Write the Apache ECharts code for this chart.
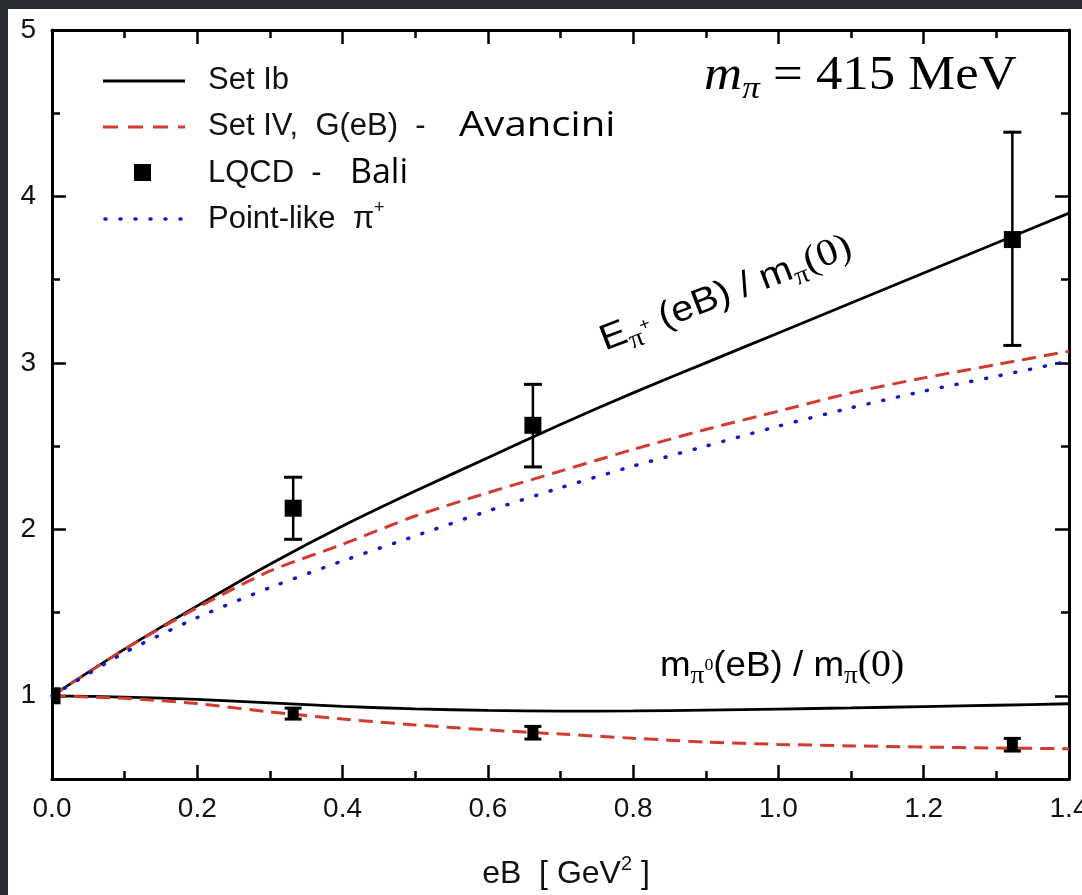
<!DOCTYPE html>
<html>
<head>
<meta charset="utf-8">
<script src="https://cdn.jsdelivr.net/npm/echarts@6/dist/echarts.min.js"></script>
<style>
html,body{margin:0;padding:0;background:#fff;overflow:hidden;}
#chart{width:1082px;height:895px;}
</style>
</head>
<body>
<div id="chart"></div>
<script>
// ---- data ----
const eB = [0, 0.1, 0.2, 0.3, 0.4, 0.5, 0.6, 0.7, 0.8, 0.9, 1.0, 1.1, 1.2, 1.3, 1.4];
const setIbCharged  = [1.00, 1.28, 1.54, 1.79, 2.02, 2.23, 2.43, 2.63, 2.82, 3.00, 3.18, 3.36, 3.54, 3.72, 3.90];
const setIVCharged  = [1.00, 1.28, 1.53, 1.75, 1.91, 2.08, 2.22, 2.35, 2.48, 2.60, 2.71, 2.82, 2.91, 2.99, 3.07];
const pointLike     = [1.00, 1.26, 1.47, 1.65, 1.81, 1.96, 2.11, 2.25, 2.38, 2.50, 2.62, 2.73, 2.83, 2.92, 3.01];
const setIbNeutral  = [1.00, 0.992, 0.978, 0.957, 0.936, 0.921, 0.912, 0.908, 0.909, 0.914, 0.920, 0.927, 0.935, 0.943, 0.952];
const setIVNeutral  = [1.00, 0.985, 0.953, 0.903, 0.860, 0.825, 0.795, 0.770, 0.745, 0.722, 0.708, 0.699, 0.692, 0.686, 0.682];

const lqcdChargedX    = [0, 0.332, 0.662, 1.322];
const lqcdChargedY    = [1.00, 2.127, 2.625, 3.741];
const lqcdChargedLow  = [1.00, 1.940, 2.375, 3.105];
const lqcdChargedHigh = [1.00, 2.313, 2.871, 4.386];

const lqcdNeutralX    = [0.332, 0.662, 1.322];
const lqcdNeutralY    = [0.892, 0.778, 0.706];
const lqcdNeutralLow  = [0.860, 0.740, 0.668];
const lqcdNeutralHigh = [0.926, 0.816, 0.744];

const yMajorTicks = [1, 2, 3, 4, 5];
const yMinorTicks = [1.5, 2.5, 3.5, 4.5];

// ---- build ----
const zip = (xs, ys) => xs.map((x, i) => [x, ys[i]]);
const zip4 = (xs, ys, lo, hi) => xs.map((x, i) => [x, ys[i], lo[i], hi[i]]);

const chart = echarts.init(document.getElementById('chart'), null, {renderer: 'canvas'});

const SANS = '"Liberation Sans", Arial, sans-serif';
const SERIF = '"Liberation Serif", "Times New Roman", serif';
const CAL = '"Open Sans", Lato, sans-serif';
const RED = '#d23a2d';
const BLUE = '#1414c8';

function errRender(capW, sq) {
  return function (params, api) {
    const x = api.value(0), y = api.value(1), lo = api.value(2), hi = api.value(3);
    const c = api.coord([x, y]);
    const cl = api.coord([x, lo]);
    const ch = api.coord([x, hi]);
    const children = [];
    if (hi > lo) {
      children.push({type: 'line', shape: {x1: c[0], y1: cl[1], x2: c[0], y2: ch[1]}, style: {stroke: '#000', lineWidth: 2.5}});
      children.push({type: 'line', shape: {x1: c[0] - capW / 2, y1: cl[1], x2: c[0] + capW / 2, y2: cl[1]}, style: {stroke: '#000', lineWidth: 3}});
      children.push({type: 'line', shape: {x1: c[0] - capW / 2, y1: ch[1], x2: c[0] + capW / 2, y2: ch[1]}, style: {stroke: '#000', lineWidth: 3}});
    }
    children.push({type: 'rect', shape: {x: c[0] - sq / 2, y: c[1] - sq / 2, width: sq, height: sq}, style: {fill: '#000'}});
    return {type: 'group', children: children};
  };
}

function xAxisCfg(pos, showLabel) {
  return {
    type: 'value', position: pos, min: 0, max: 1.4, interval: 0.2,
    axisLine: {show: true, onZero: false, lineStyle: {color: '#000', width: 3}},
    axisTick: {show: true, inside: true, length: 14, lineStyle: {color: '#000', width: 2.5}},
    minorTick: {show: true, splitNumber: 2, length: 8, lineStyle: {color: '#000', width: 2.5}},
    axisLabel: {show: showLabel, color: '#111', fontSize: 28, fontFamily: SANS, margin: 16,
      formatter: v => v.toFixed(1)},
    splitLine: {show: false}, minorSplitLine: {show: false}
  };
}
function yAxisCfg(pos, ticks, len, showLine, showLabel) {
  return {
    type: 'value', position: pos, min: 0.5, max: 5,
    axisLine: {show: showLine, onZero: false, lineStyle: {color: '#000', width: 3}},
    axisTick: {show: true, inside: true, length: len, customValues: ticks, lineStyle: {color: '#000', width: 2.5}},
    axisLabel: {show: showLabel, customValues: yMajorTicks, color: '#111', fontSize: 28, fontFamily: SANS, margin: 16},
    splitLine: {show: false}
  };
}

const option = {
  backgroundColor: '#ffffff',
  animation: false,
  grid: {left: 52, right: 13, top: 30, bottom: 116, containLabel: false, outerBoundsMode: 'none'},
  xAxis: [xAxisCfg('bottom', true), xAxisCfg('top', false)],
  yAxis: [
    yAxisCfg('left', yMajorTicks, 14, true, true),
    yAxisCfg('left', yMinorTicks, 8, false, false),
    yAxisCfg('right', yMajorTicks, 14, true, false),
    yAxisCfg('right', yMinorTicks, 8, false, false)
  ],
  series: [
    {name: 'Set Ib', type: 'line', data: zip(eB, setIbCharged), showSymbol: false, smooth: 0.2,
      lineStyle: {color: '#000', width: 2.8}, z: 3},
    {name: 'Set Ib neutral', type: 'line', data: zip(eB, setIbNeutral), showSymbol: false, smooth: 0.2,
      lineStyle: {color: '#000', width: 2.8}, z: 3},
    {name: 'Set IV, G(eB) - Avancini', type: 'line', data: zip(eB, setIVCharged), showSymbol: false, smooth: 0.2,
      lineStyle: {color: RED, width: 3, type: [14, 8]}, z: 3},
    {name: 'Set IV neutral', type: 'line', data: zip(eB, setIVNeutral), showSymbol: false, smooth: 0.2,
      lineStyle: {color: RED, width: 3, type: [14, 8]}, z: 3},
    {name: 'Point-like', type: 'line', data: zip(eB, pointLike), showSymbol: false, smooth: 0.2,
      lineStyle: {color: BLUE, width: 3.5, type: [1, 14], cap: 'round'}, z: 3},
    {name: 'LQCD - Bali', type: 'custom', clip: true, renderItem: errRender(18, 17),
      data: zip4(lqcdChargedX, lqcdChargedY, lqcdChargedLow, lqcdChargedHigh), encode: {x: 0, y: 1}, z: 5},
    {name: 'LQCD neutral', type: 'custom', clip: true, renderItem: errRender(17, 11),
      data: zip4(lqcdNeutralX, lqcdNeutralY, lqcdNeutralLow, lqcdNeutralHigh), encode: {x: 0, y: 1}, z: 5}
  ],
  graphic: [
    // dark frame strips of the screenshot
    {type: 'rect', shape: {x: 0, y: 0, width: 1082, height: 9}, style: {fill: '#2a2d35'}, z: 100},
    {type: 'rect', shape: {x: 0, y: 0, width: 8, height: 895}, style: {fill: '#2a2d35'}, z: 100},
    // legend
    {type: 'line', shape: {x1: 103, y1: 81, x2: 185, y2: 81}, style: {stroke: '#000', lineWidth: 2.8}, z: 10},
    {type: 'line', shape: {x1: 103, y1: 127, x2: 185, y2: 127}, style: {stroke: RED, lineWidth: 3, lineDash: [15, 10]}, z: 10},
    {type: 'rect', shape: {x: 134, y: 164, width: 17, height: 17}, style: {fill: '#000'}, z: 10},
    {type: 'line', shape: {x1: 105, y1: 219, x2: 185, y2: 219}, style: {stroke: BLUE, lineWidth: 3.5, lineDash: [1, 14], lineCap: 'round'}, z: 10},
    {type: 'text', x: 208, y: 80, z: 10, style: {text: 'Set Ib', font: '31px ' + SANS, fill: '#111', verticalAlign: 'middle'}},
    {type: 'text', x: 208, y: 126, z: 10, style: {text: 'Set IV,  G(eB)  -', font: '31px ' + SANS, fill: '#111', verticalAlign: 'middle'}},
    {type: 'text', x: 459, y: 126, z: 10, scaleX: 1.18, style: {text: 'Avancini', font: '34px ' + CAL, fill: '#000', verticalAlign: 'middle'}},
    {type: 'text', x: 208, y: 173, z: 10, style: {text: 'LQCD  -', font: '31px ' + SANS, fill: '#111', verticalAlign: 'middle'}},
    {type: 'text', x: 350, y: 173, z: 10, style: {text: 'Bali', font: '34px ' + CAL, fill: '#000', verticalAlign: 'middle'}},
    {type: 'text', x: 208, y: 219, z: 10, style: {
      text: '{a|Point-like  π}{s|+}', verticalAlign: 'middle', fill: '#111',
      rich: {a: {fontSize: 31, fontFamily: SANS, fill: '#111', lineHeight: 40, verticalAlign: 'middle'},
             s: {fontSize: 18, fontFamily: SANS, fill: '#111', lineHeight: 18, verticalAlign: 'top'}}}},
    // m_pi = 415 MeV
    {type: 'text', x: 704, y: 76, z: 10, scaleX: 1.1, style: {
      text: '{m|m}{p|π}{r| = 415 MeV}', verticalAlign: 'middle', fill: '#000',
      rich: {m: {fontSize: 48, fontStyle: 'italic', fontFamily: SERIF, fill: '#000', lineHeight: 60, verticalAlign: 'middle'},
             p: {fontSize: 32, fontStyle: 'italic', fontFamily: SERIF, fill: '#000', lineHeight: 35, verticalAlign: 'bottom'},
             r: {fontSize: 48, fontFamily: SERIF, fill: '#000', lineHeight: 60, verticalAlign: 'middle'}}}},
    // rotated curve label (charged)
    {type: 'text', x: 610, y: 364, rotation: 21 * Math.PI / 180, scaleX: 1.1, z: 10, style: {
      text: '{a|E}{s|π}{u|+}{a| (eB) / m}{s|π}{c|(0)}', verticalAlign: 'bottom', align: 'left', fill: '#000',
      rich: {a: {fontSize: 36, fontFamily: SANS, fill: '#000', lineHeight: 48, verticalAlign: 'middle'},
             s: {fontSize: 26, fontFamily: SERIF, fill: '#000', lineHeight: 24, verticalAlign: 'bottom'},
             u: {fontSize: 17, fontFamily: SANS, fill: '#000', lineHeight: 48, verticalAlign: 'middle'},
             c: {fontSize: 38, fontFamily: SERIF, fill: '#000', lineHeight: 48, verticalAlign: 'middle'}}}},
    // neutral curve label
    {type: 'text', x: 660, y: 666, z: 10, scaleX: 1.05, style: {
      text: '{a|m}{s|π}{u|0}{a|(eB) / m}{s|π}{c|(0)}', verticalAlign: 'middle', align: 'left', fill: '#000',
      rich: {a: {fontSize: 35, fontFamily: SANS, fill: '#000', lineHeight: 46, verticalAlign: 'middle'},
             s: {fontSize: 26, fontFamily: SERIF, fill: '#000', lineHeight: 24, verticalAlign: 'bottom'},
             u: {fontSize: 17, fontFamily: SERIF, fill: '#000', lineHeight: 46, verticalAlign: 'middle'},
             c: {fontSize: 38, fontFamily: SERIF, fill: '#000', lineHeight: 46, verticalAlign: 'middle'}}}},
    // x axis title
    {type: 'text', x: 566, y: 874, z: 10, style: {
      text: '{a|eB  [ GeV}{s|2}{a| ]}', align: 'center', verticalAlign: 'middle', fill: '#111',
      rich: {a: {fontSize: 32, fontFamily: SANS, fill: '#111', lineHeight: 40, verticalAlign: 'middle'},
             s: {fontSize: 20, fontFamily: SANS, fill: '#111', lineHeight: 20, verticalAlign: 'top'}}}}
  ]
};
chart.setOption(option);
</script>
</body>
</html>
